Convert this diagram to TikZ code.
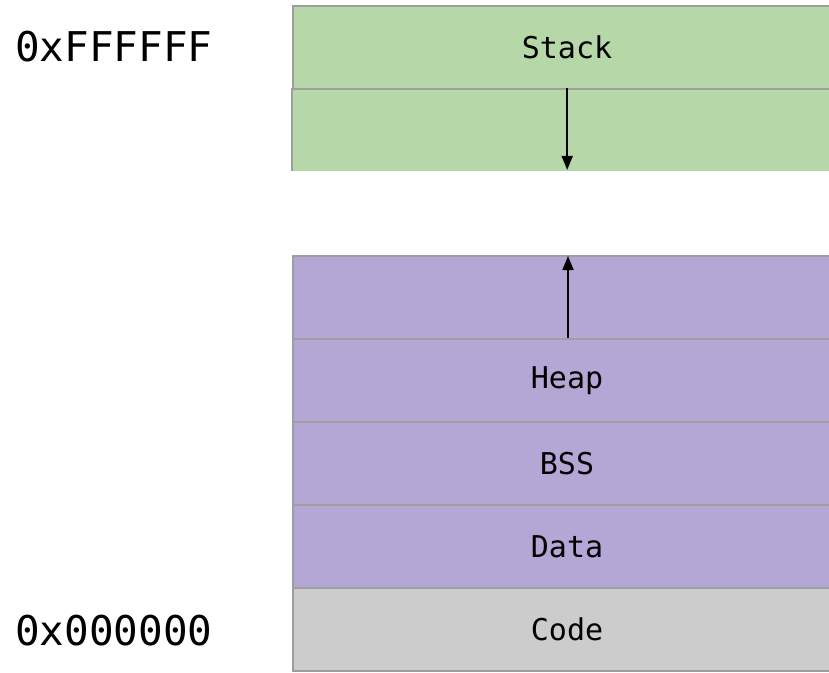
\documentclass[tikz,border=0pt]{standalone}
\usepackage{fontspec}
\setmonofont{DejaVu Sans Mono}
\usetikzlibrary{arrows.meta}
\definecolor{stackgreen}{HTML}{B6D7A8}
\definecolor{heappurple}{HTML}{B4A7D6}
\definecolor{codegray}{HTML}{CCCCCC}
\definecolor{edgegray}{HTML}{9E9E9E}
\tikzset{
  cell/.style={rectangle, anchor=north west, inner sep=0pt,
    minimum width=548pt, minimum height=83pt,
    font=\ttfamily\fontsize{30}{36}\selectfont},
  framed/.style={draw=edgegray, line width=2pt},
  addr/.style={anchor=west, inner sep=0pt, font=\ttfamily\fontsize{41}{48}\selectfont},
  growarrow/.style={line width=1.8pt, -{Triangle[width=11pt 0,length=14pt 0]}}
}
\begin{document}
\begin{tikzpicture}[x=1pt, y=-1pt]
  \useasboundingbox (0,0) rectangle (829,672);
  \clip (0,0) rectangle (829,672);
  % stack segment (grows downwards)
  \node[cell, fill=stackgreen] (stackfree) at (292,88) {};
  \draw[edgegray, line width=2pt] (stackfree.north west) -- (stackfree.south west);
  \node[cell, framed, fill=stackgreen] (stack) at (292,5) {Stack};
  % heap and static segments
  \node[cell, framed, fill=heappurple] (heapfree) at (292,255) {};
  \node[cell, framed, fill=heappurple] (heap) at (292,338) {Heap};
  \node[cell, framed, fill=heappurple] (bss) at (292,421) {BSS};
  \node[cell, framed, fill=heappurple] (data) at (292,504) {Data};
  \node[cell, framed, fill=codegray] (code) at (292,587) {Code};
  % growth directions
  \draw[growarrow] ([xshift=1pt]stackfree.north) -- ([xshift=1pt,yshift=1.5pt]stackfree.south);
  \draw[growarrow] ([xshift=1pt]heap.north) -- ([xshift=1pt,yshift=-1pt]heapfree.north);
  % address labels
  \node[addr] (high) at (15,47) {0xFFFFFF};
  \node[addr] (low) at (15,631) {0x000000};
\end{tikzpicture}
\end{document}
